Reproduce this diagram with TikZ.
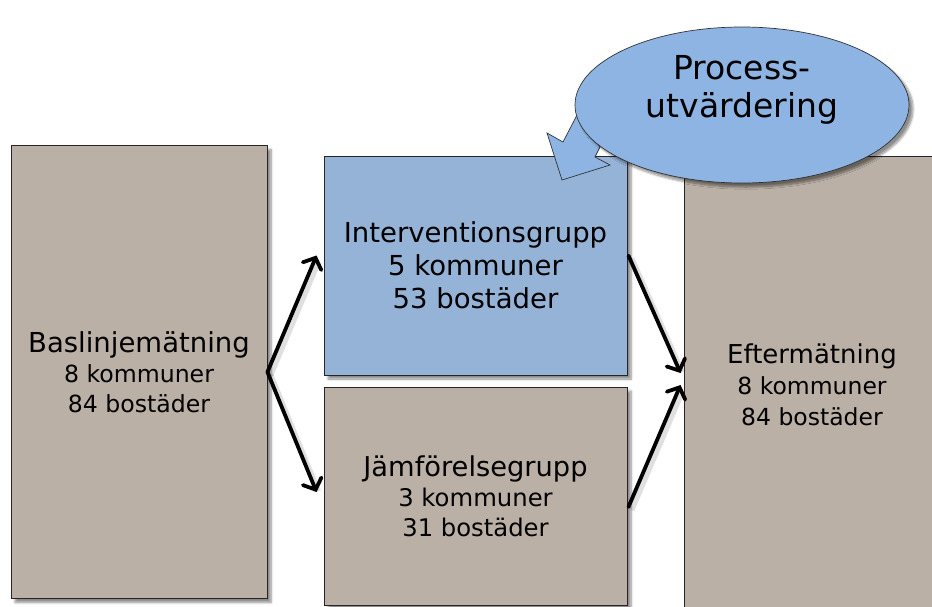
\documentclass[tikz,border=0pt]{standalone}
\usepackage{fontspec}
\setmainfont{DejaVu Sans}
\usetikzlibrary{arrows.meta,shapes.geometric,shadows.blur}

\definecolor{stone}{RGB}{186,176,166}
\definecolor{paleblue}{RGB}{149,179,215}
\definecolor{bubble}{RGB}{141,180,226}

\begin{document}
\begin{tikzpicture}[x=1pt,y=-1pt,
  softshadow/.style={blur shadow={shadow xshift=4pt,shadow yshift=-4pt,shadow blur steps=8,shadow opacity=45}},
  box/.style={draw=black!85,line width=0.9pt,inner sep=0pt,align=center,softshadow},
  flow/.style={line width=3.8pt,-{Straight Barb[length=9pt,width=20pt,line cap=round]},line cap=round},
  flowshade/.style={line width=6pt,draw=black,opacity=0.12,shorten >=4pt}]

\useasboundingbox (0,0) rectangle (932,606);
\clip (0,0) rectangle (932,606);

% the four stages
\node[box,fill=stone,minimum width=256pt,minimum height=453pt,
  font=\fontsize{23.6}{30}\selectfont] (base) at (139,372)
  {{\fontsize{27.5}{31}\selectfont Baslinjemätning}\\8 kommuner\\84 bostäder};
\node[box,fill=paleblue,minimum width=303pt,minimum height=219pt,
  font=\fontsize{27.5}{33}\selectfont] (int) at (475.5,265.5)
  {Interventionsgrupp\\5 kommuner\\53 bostäder};
\node[box,fill=stone,minimum width=303pt,minimum height=218pt,
  font=\fontsize{24.3}{30}\selectfont] (jmf) at (475.5,496)
  {{\fontsize{27.3}{30}\selectfont Jämförelsegrupp}\\3 kommuner\\31 bostäder};
\node[box,fill=stone,minimum width=256pt,minimum height=458pt,
  font=\fontsize{23.5}{31}\selectfont] (eft) at (812,385)
  {{\fontsize{26}{31}\selectfont Eftermätning}\\8 kommuner\\84 bostäder};

% arrow end points beside the boxes
\coordinate (b1) at (base.east);
\coordinate (i1) at ([shift={(-7,-10)}]int.west);
\coordinate (j1) at ([shift={(-7,-4)}]jmf.west);
\coordinate (i2) at ([shift={(1,-10)}]int.east);
\coordinate (j2) at ([shift={(1,11)}]jmf.east);
\coordinate (e1) at ([shift={(-3,-12)}]eft.west);
\coordinate (e2) at ([shift={(-3,0)}]eft.west);

% faint shadows under the arrows
\begin{scope}[transform canvas={shift={(3pt,-3pt)}}]
  \draw[flowshade] (b1) -- (i1);
  \draw[flowshade] (b1) -- (j1);
  \draw[flowshade] (i2) -- (e1);
  \draw[flowshade] (j2) -- (e2);
\end{scope}

\draw[flow] (b1) -- (i1);
\draw[flow] (b1) -- (j1);
\draw[flow] (i2) -- (e1);
\draw[flow] (j2) -- (e2);

% callout with its block arrow pointing at the intervention group
\coordinate (pa) at (577,115);
\coordinate (pb) at (600,147);
\draw[fill=bubble,draw=black!80,line width=0.7pt,line join=miter]
  (pa) -- (563,142) -- (547,133) -- (562,180) -- (610,165) -- (595,157) -- (pb) -- cycle;
\node[ellipse,fill=bubble,draw=black!80,line width=0.7pt,softshadow,
  minimum width=334pt,minimum height=156pt,inner sep=0pt] (proc) at (742,105) {};
\node[align=center,inner sep=0pt,font=\fontsize{33}{38}\selectfont]
  (proctext) at ([yshift=15pt]proc.center) {Process-\\utvärdering};
\end{tikzpicture}
\end{document}
